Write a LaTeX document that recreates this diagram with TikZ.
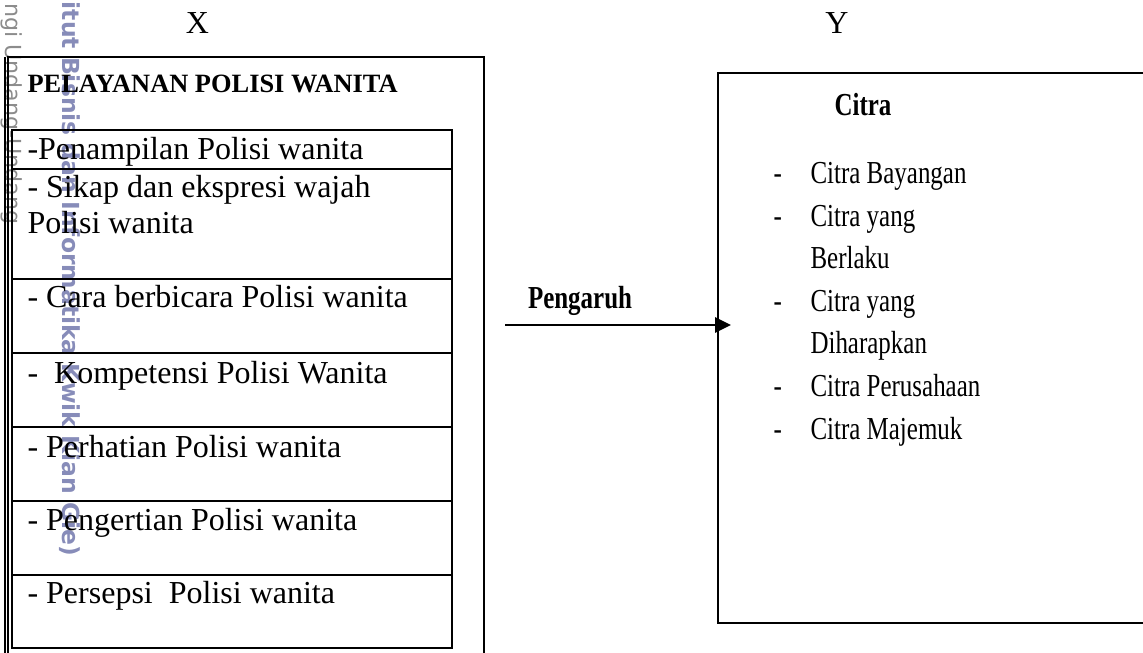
\documentclass[tikz,border=0pt]{standalone}
\usepackage{fontspec}
\usepackage{graphicx}
\setmainfont{Liberation Serif}
\newfontfamily\wmfont{DejaVu Sans}
\definecolor{wmblue}{RGB}{135,140,185}
\definecolor{wmgray}{RGB}{140,140,140}
\usetikzlibrary{arrows.meta}
\tikzset{
  txt/.style={anchor=base west, inner sep=0pt, font=\fontsize{12}{14}\selectfont},
  head/.style={anchor=base west, inner sep=0pt, font=\fontsize{9.9}{11}\selectfont\bfseries},
  rtxt/.style={anchor=base west, inner sep=0pt, font=\fontsize{12}{14}\selectfont},
  ctxt/.style={anchor=base, inner sep=0pt, font=\fontsize{12}{14}\selectfont},
  boxline/.style={line width=0.8pt, draw=black},
  wmark/.style={rotate=-90, anchor=base east, inner sep=0pt},
}
\newcommand{\sq}[1]{\scalebox{0.78}[1]{#1}}
\begin{document}
\begin{tikzpicture}[x=0.375pt,y=-0.375pt]
\useasboundingbox (0,0) rectangle (1143,652);
% watermarks
\node[wmark, text=wmgray, font=\wmfont\fontsize{8.3}{10}\selectfont] (wm1) at (5,225) {ngi Undang-Undang};
\node[wmark, text=wmblue, font=\wmfont\fontsize{8.8}{11}\selectfont\bfseries] (wm2) at (62,557) {itut Bisnis dan Informatika Kwik Kian Gie)};
\begin{scope}
\clip (0,0) rectangle (1143,652);
% outer left box
\draw[boxline] (8,700) -- (8,57) -- (484,57) -- (484,700);
\draw[line width=0.5pt] (5,700) -- (5,57);
% right box
\draw[boxline] (1160,73) -- (718,73) -- (718,623) -- (1160,623);
\end{scope}
% inner table
\draw[boxline] (12,130) rectangle (452,648);
\foreach \yy in {169,279,353,427,501,575} \draw[boxline] (12,\yy) -- (452,\yy);
% labels X Y
\node[ctxt] (X) at (197.5,33) {X};
\node[ctxt] (Y) at (837,33) {Y};
% left texts
\node[head] (title) at (27,92) {PELAYANAN POLISI WANITA};
\node[txt] (r1) at (27,159) {-Penampilan Polisi wanita};
\node[txt] (r2a) at (27,197) {- Sikap dan ekspresi wajah};
\node[txt] (r2b) at (27,233) {Polisi wanita};
\node[txt] (r3) at (27,307) {- Cara berbicara Polisi wanita};
\node[txt] (r4) at (27,383) {-~~Kompetensi Polisi Wanita};
\node[txt] (r5) at (27,457) {- Perhatian Polisi wanita};
\node[txt] (r6) at (27,530) {- Pengertian Polisi wanita};
\node[txt] (r7) at (27,603) {- Persepsi~~Polisi wanita};
% arrow
\node[ctxt, font=\fontsize{12}{14}\selectfont\bfseries] (peng) at (580,308) {\sq{Pengaruh}};
\coordinate (arrS) at (505,325);
\coordinate (arrE) at (731,325);
\draw[line width=1.1pt, -{Triangle[length=6pt,width=5.6pt]}] (arrS) -- (arrE);
% right texts
\node[ctxt, font=\fontsize{12}{14}\selectfont\bfseries] (citra) at (863,115) {\sq{Citra}};
\foreach \yy/\nm in {183/d1,226/d2,311/d3,396/d4,439/d5}
  \node[rtxt] (\nm) at (773,\yy) {\sq{-}};
\node[rtxt] (c1) at (810,183) {\sq{Citra Bayangan}};
\node[rtxt] (c2) at (810,226) {\sq{Citra yang}};
\node[rtxt] (c3) at (810,268) {\sq{Berlaku}};
\node[rtxt] (c4) at (810,311) {\sq{Citra yang}};
\node[rtxt] (c5) at (810,353) {\sq{Diharapkan}};
\node[rtxt] (c6) at (810,396) {\sq{Citra Perusahaan}};
\node[rtxt] (c7) at (810,439) {\sq{Citra Majemuk}};
\end{tikzpicture}
\end{document}
